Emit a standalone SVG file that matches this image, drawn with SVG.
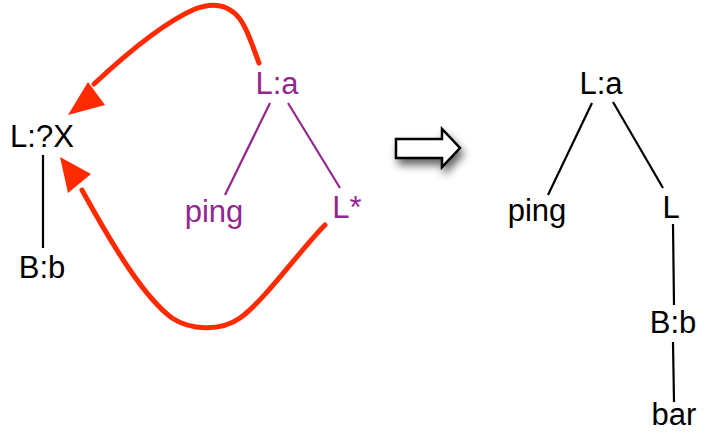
<svg xmlns="http://www.w3.org/2000/svg" width="708" height="436" viewBox="0 0 708 436">
<defs>
<style>
text{font-family:"Liberation Sans",Arial,sans-serif;font-size:31px;text-anchor:middle}
.k{fill:#000}
.p{fill:#93278f}
.lk{stroke:#000;stroke-width:2.2;fill:none}
.lp{stroke:#93278f;stroke-width:2.2;fill:none}
.red{stroke:#ff2a00;stroke-width:5;fill:none;stroke-linecap:round}
.rh{fill:#ff2a00}
</style>
<filter id="sh" x="-40%" y="-40%" width="190%" height="220%">
<feGaussianBlur in="SourceAlpha" stdDeviation="4"/>
<feOffset dx="3" dy="6" result="b"/>
<feComponentTransfer><feFuncA type="linear" slope="0.6"/></feComponentTransfer>
<feMerge><feMergeNode/><feMergeNode in="SourceGraphic"/></feMerge>
</filter>
</defs>
<rect width="708" height="436" fill="#fff"/>
<g id="connectors">
<line class="lk" x1="43" y1="155" x2="43" y2="248"/>
<line class="lp" x1="270" y1="103" x2="225" y2="195"/>
<line class="lp" x1="288" y1="103" x2="340" y2="188"/>
<line class="lk" x1="592" y1="103" x2="548" y2="195"/>
<line class="lk" x1="613" y1="102" x2="663" y2="188"/>
<line class="lk" x1="673" y1="224" x2="674" y2="305"/>
<line class="lk" x1="673" y1="342" x2="674" y2="402"/>
<path class="red" d="M259,63 C252,45 245,20 233,12 C222,3 208,4 195,9 C165,22 125,55 94,84"/>
<polygon class="rh" points="68,115 88,82 105,105"/>
<path class="red" d="M325,225 C300,250 265,300 240,318 C220,332 190,330 172,318 C145,298 115,250 82,190"/>
<polygon class="rh" points="60,157 68,193 91,174"/>
</g>
<g id="transform-arrow" filter="url(#sh)">
<polygon points="396,139 442,139 442,129 460,148 442,167 442,158 396,158" fill="#fff" stroke="#000" stroke-width="2.5" stroke-linejoin="miter"/>
</g>
<g id="n-lx"><text class="k" x="42" y="147">L:?X</text></g>
<g id="n-bb"><text class="k" x="42" y="278">B:b</text></g>
<g id="n-la1"><text class="p" x="277" y="94">L:a</text></g>
<g id="n-ping1"><text class="p" x="214" y="222">ping</text></g>
<g id="n-lstar"><text class="p" x="347" y="218">L*</text></g>
<g id="n-la2"><text class="k" x="601" y="94">L:a</text></g>
<g id="n-ping2"><text class="k" x="537" y="221">ping</text></g>
<g id="n-l"><text class="k" x="671" y="218">L</text></g>
<g id="n-bb2"><text class="k" x="673" y="333">B:b</text></g>
<g id="n-bar"><text class="k" x="674" y="425">bar</text></g>
</svg>
